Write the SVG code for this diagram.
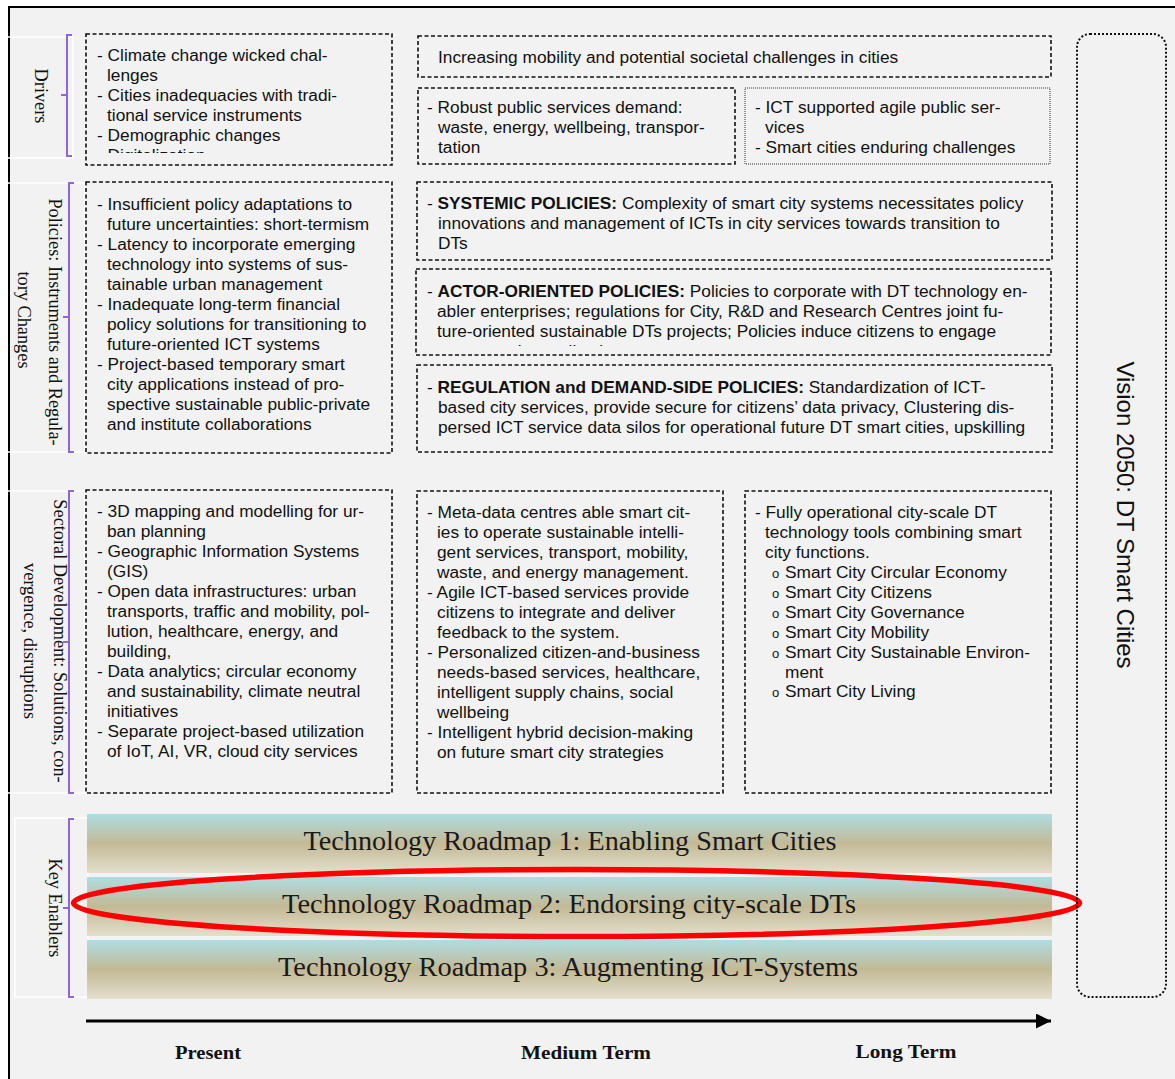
<svg xmlns="http://www.w3.org/2000/svg" width="1175" height="1079" viewBox="0 0 1175 1079">
<defs>
<style>
.t{font-family:"Liberation Sans",Arial,sans-serif;font-size:17.3px;fill:#111}
.b{font-weight:bold}
.lab{font-family:"Liberation Serif","Times New Roman",serif;font-size:18.3px;fill:#111}
.band{font-family:"Liberation Serif","Times New Roman",serif;font-size:28px;fill:#1a1a1a}
.time{font-family:"Liberation Serif","Times New Roman",serif;font-size:19px;font-weight:bold;fill:#111}
.box{fill:none;stroke:#111;stroke-width:1.6;stroke-dasharray:4 2.5}
.dot{fill:none;stroke:#333;stroke-width:1;stroke-dasharray:1 1}
.lr{fill:none;stroke:#fff;stroke-width:1.5}
.br{fill:none;stroke:#8f66d8;stroke-width:2}
</style>
<linearGradient id="bandg" x1="0" y1="0" x2="0" y2="1">
<stop offset="0" stop-color="#aedde3"/>
<stop offset="0.5" stop-color="#c3b995"/>
<stop offset="1" stop-color="#e4dfcd"/>
</linearGradient>
<clipPath id="c1"><rect x="86" y="34" width="306" height="119"/></clipPath>
<clipPath id="c2"><rect x="745" y="88" width="305" height="69"/></clipPath>
<clipPath id="c3"><rect x="416" y="269" width="635" height="77"/></clipPath>
<clipPath id="c4"><rect x="417" y="365" width="635" height="76"/></clipPath>
<marker id="ah" viewBox="0 0 10 10" refX="10" refY="5" markerWidth="6" markerHeight="5" markerUnits="strokeWidth" orient="auto"><path d="M0,0 L10,5 L0,10 Z" fill="#000"/></marker>
</defs>

<rect width="1175" height="1079" fill="#fff"/>
<rect x="9" y="7" width="1166" height="1072" fill="#f2f2f2"/>
<path d="M9,1079 V7 H1175" fill="none" stroke="#000" stroke-width="2"/>

<!-- row labels -->
<g id="label-drivers">
<rect class="lr" x="-1" y="37" width="74" height="121"/>
<path class="br" d="M72,35 H67 V156 H72 M67,95 H61"/>
<text class="lab" transform="translate(41,96) rotate(90)" text-anchor="middle" dominant-baseline="central">Drivers</text>
</g>
<g id="label-policies">
<rect class="lr" x="-1" y="183" width="86" height="269"/>
<path class="br" d="M74,183 H69 V452 H74 M69,317 H63"/>
<text class="lab" transform="translate(55,322) rotate(90)" text-anchor="middle" dominant-baseline="central">Policies: Instruments and Regula-</text>
<text class="lab" transform="translate(24,320) rotate(90)" text-anchor="middle" dominant-baseline="central">tory Changes</text>
</g>
<g id="label-sectoral">
<rect class="lr" x="-1" y="491" width="86" height="302"/>
<path class="br" d="M74,491 H69 V793 H74 M69,642 H63"/>
<text class="lab" transform="translate(60,641) rotate(90)" text-anchor="middle" dominant-baseline="central">Sectoral Development: Solutions, con-</text>
<text class="lab" transform="translate(30,641) rotate(90)" text-anchor="middle" dominant-baseline="central">vergence, disruptions</text>
</g>
<g id="label-enablers">
<rect class="lr" x="15" y="818" width="73" height="179"/>
<path class="br" d="M74,819 H69 V997 H74 M69,908 H63"/>
<text class="lab" transform="translate(55,908) rotate(90)" text-anchor="middle" dominant-baseline="central">Key Enablers</text>
</g>

<!-- Drivers row -->
<g id="drivers-present">
<rect class="box" x="86" y="34" width="306" height="131"/>
<text class="t" clip-path="url(#c1)"><tspan x="97" y="61">- Climate change wicked chal-</tspan><tspan x="107" y="81">lenges</tspan><tspan x="97" y="101">- Cities inadequacies with tradi-</tspan><tspan x="107" y="121">tional service instruments</tspan><tspan x="97" y="141">- Demographic changes</tspan><tspan x="97" y="161">- Digitalization</tspan></text>
</g>
<g id="drivers-mobility">
<rect class="box" x="418" y="36" width="633" height="41"/>
<text class="t" x="438" y="63">Increasing mobility and potential societal challenges in cities</text>
</g>
<g id="drivers-robust">
<rect class="box" x="418" y="88" width="317" height="76"/>
<text class="t"><tspan x="427" y="113">- Robust public services demand:</tspan><tspan x="438" y="133">waste, energy, wellbeing, transpor-</tspan><tspan x="438" y="153">tation</tspan></text>
</g>
<g id="drivers-ict">
<rect class="dot" x="745" y="88" width="305" height="76"/>
<text class="t" clip-path="url(#c2)"><tspan x="755" y="113">- ICT supported agile public ser-</tspan><tspan x="765" y="133">vices</tspan><tspan x="755" y="153">- Smart cities enduring challenges</tspan></text>
</g>

<!-- Policies row -->
<g id="policies-present">
<rect class="box" x="86" y="182" width="306" height="271"/>
<text class="t"><tspan x="97" y="210">- Insufficient policy adaptations to</tspan><tspan x="107" y="230">future uncertainties: short-termism</tspan><tspan x="97" y="250">- Latency to incorporate emerging</tspan><tspan x="107" y="270">technology into systems of sus-</tspan><tspan x="107" y="290">tainable urban management</tspan><tspan x="97" y="310">- Inadequate long-term financial</tspan><tspan x="107" y="330">policy solutions for transitioning to</tspan><tspan x="107" y="350">future-oriented ICT systems</tspan><tspan x="97" y="370">- Project-based temporary smart</tspan><tspan x="107" y="390">city applications instead of pro-</tspan><tspan x="107" y="410">spective sustainable public-private</tspan><tspan x="107" y="430">and institute collaborations</tspan></text>
</g>
<g id="policies-systemic">
<rect class="box" x="417" y="182" width="635" height="78"/>
<text class="t"><tspan x="427" y="209">- </tspan><tspan class="b">SYSTEMIC POLICIES:</tspan><tspan> Complexity of smart city systems necessitates policy</tspan><tspan x="438" y="229">innovations and management of ICTs in city services towards transition to</tspan><tspan x="438" y="249">DTs</tspan></text>
</g>
<g id="policies-actor">
<rect class="box" x="416" y="269" width="635" height="86"/>
<text class="t" clip-path="url(#c3)"><tspan x="427" y="297">- </tspan><tspan class="b">ACTOR-ORIENTED POLICIES:</tspan><tspan> Policies to corporate with DT technology en-</tspan><tspan x="437" y="317">abler enterprises; regulations for City, R&amp;D and Research Centres joint fu-</tspan><tspan x="437" y="337">ture-oriented sustainable DTs projects; Policies induce citizens to engage</tspan><tspan x="437" y="357">on smart city applications</tspan></text>
</g>
<g id="policies-regulation">
<rect class="box" x="417" y="365" width="635" height="87"/>
<text class="t" clip-path="url(#c4)"><tspan x="427" y="393">- </tspan><tspan class="b">REGULATION and DEMAND-SIDE POLICIES:</tspan><tspan> Standardization of ICT-</tspan><tspan x="438" y="413">based city services, provide secure for citizens’ data privacy, Clustering dis-</tspan><tspan x="438" y="433">persed ICT service data silos for operational future DT smart cities, upskilling</tspan><tspan x="438" y="453">citizens and employees</tspan></text>
</g>

<!-- Sectoral row -->
<g id="sectoral-present">
<rect class="box" x="86" y="490" width="306" height="303"/>
<text class="t"><tspan x="97" y="517">- 3D mapping and modelling for ur-</tspan><tspan x="107" y="537">ban planning</tspan><tspan x="97" y="557">- Geographic Information Systems</tspan><tspan x="107" y="577">(GIS)</tspan><tspan x="97" y="597">- Open data infrastructures: urban</tspan><tspan x="107" y="617">transports, traffic and mobility, pol-</tspan><tspan x="107" y="637">lution, healthcare, energy, and</tspan><tspan x="107" y="657">building,</tspan><tspan x="97" y="677">- Data analytics; circular economy</tspan><tspan x="107" y="697">and sustainability, climate neutral</tspan><tspan x="107" y="717">initiatives</tspan><tspan x="97" y="737">- Separate project-based utilization</tspan><tspan x="107" y="757">of IoT, AI, VR, cloud city services</tspan></text>
</g>
<g id="sectoral-medium">
<rect class="box" x="417" y="491" width="306" height="302"/>
<text class="t"><tspan x="427" y="518">- Meta-data centres able smart cit-</tspan><tspan x="437" y="538">ies to operate sustainable intelli-</tspan><tspan x="437" y="558">gent services, transport, mobility,</tspan><tspan x="437" y="578">waste, and energy management.</tspan><tspan x="427" y="598">- Agile ICT-based services provide</tspan><tspan x="437" y="618">citizens to integrate and deliver</tspan><tspan x="437" y="638">feedback to the system.</tspan><tspan x="427" y="658">- Personalized citizen-and-business</tspan><tspan x="437" y="678">needs-based services, healthcare,</tspan><tspan x="437" y="698">intelligent supply chains, social</tspan><tspan x="437" y="718">wellbeing</tspan><tspan x="427" y="738">- Intelligent hybrid decision-making</tspan><tspan x="437" y="758">on future smart city strategies</tspan></text>
</g>
<g id="sectoral-long">
<rect class="box" x="745" y="491" width="306" height="302"/>
<text class="t"><tspan x="755" y="518">- Fully operational city-scale DT</tspan><tspan x="765" y="538">technology tools combining smart</tspan><tspan x="765" y="558">city functions.</tspan><tspan x="785" y="578">Smart City Circular Economy</tspan><tspan x="785" y="598">Smart City Citizens</tspan><tspan x="785" y="618">Smart City Governance</tspan><tspan x="785" y="638">Smart City Mobility</tspan><tspan x="785" y="658">Smart City Sustainable Environ-</tspan><tspan x="785" y="678">ment</tspan><tspan x="785" y="697">Smart City Living</tspan></text>
<text class="t" style="font-size:13px"><tspan x="772" y="578">o</tspan><tspan x="772" y="598">o</tspan><tspan x="772" y="618">o</tspan><tspan x="772" y="638">o</tspan><tspan x="772" y="658">o</tspan><tspan x="772" y="697">o</tspan></text>
</g>

<!-- Key enablers -->
<g id="roadmap-1">
<rect x="87" y="814" width="965" height="59" fill="url(#bandg)"/>
<text class="band" x="570" y="850" text-anchor="middle" textLength="533" lengthAdjust="spacingAndGlyphs">Technology Roadmap 1: Enabling Smart Cities</text>
</g>
<g id="roadmap-2">
<rect x="87" y="877" width="965" height="59" fill="url(#bandg)"/>
<text class="band" x="569" y="913" text-anchor="middle" textLength="574" lengthAdjust="spacingAndGlyphs">Technology Roadmap 2: Endorsing city-scale DTs</text>
</g>
<g id="roadmap-3">
<rect x="87" y="940" width="965" height="59" fill="url(#bandg)"/>
<text class="band" x="568" y="976" text-anchor="middle" textLength="580" lengthAdjust="spacingAndGlyphs">Technology Roadmap 3: Augmenting ICT-Systems</text>
</g>
<g id="highlight">
<ellipse cx="576.5" cy="903" rx="503" ry="33.5" fill="none" stroke="#ff0000" stroke-width="5.5"/>
</g>

<!-- Vision -->
<g id="vision">
<rect x="1077" y="34" width="89" height="963" rx="13" fill="none" stroke="#111" stroke-width="2" stroke-dasharray="2 2"/>
<text transform="translate(1125,515) rotate(90)" text-anchor="middle" dominant-baseline="central" style="font-family:'Liberation Sans',Arial,sans-serif;font-size:24px;fill:#111">Vision 2050: DT Smart Cities</text>
</g>

<!-- timeline -->
<g id="connectors">
<line x1="86" y1="1021" x2="1051" y2="1021" stroke="#000" stroke-width="3" marker-end="url(#ah)"/>
</g>
<g id="time-labels">
<text class="time" x="208" y="1059" text-anchor="middle" textLength="66" lengthAdjust="spacingAndGlyphs">Present</text>
<text class="time" x="586" y="1059" text-anchor="middle" textLength="130" lengthAdjust="spacingAndGlyphs">Medium Term</text>
<text class="time" x="906" y="1058" text-anchor="middle" textLength="101" lengthAdjust="spacingAndGlyphs">Long Term</text>
</g>
</svg>
